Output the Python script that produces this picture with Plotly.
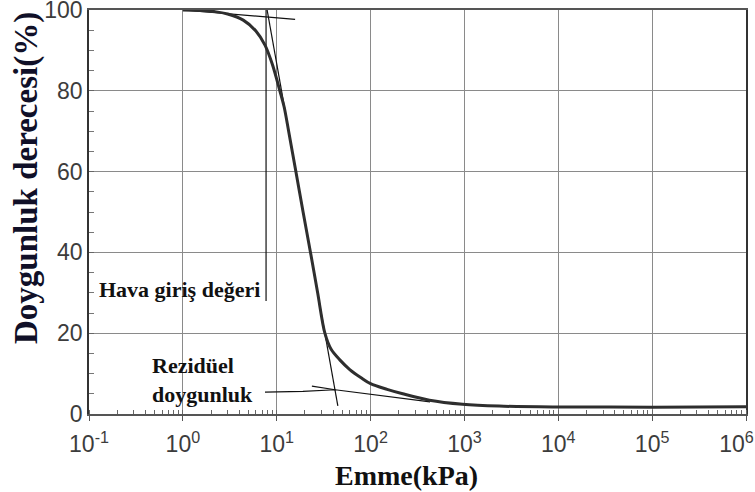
import plotly.graph_objects as go

# Soil-water characteristic curve: degree of saturation vs. suction
suction_kpa = [1.0, 1.5, 2.2, 3.0, 4.4, 6.0, 7.5, 9.0, 10.8, 12.0, 13.4, 16.0, 19.1,
               22.9, 27.3, 32.6, 38, 47, 60, 80, 100, 150, 220, 424, 955, 2340,
               1e4, 1e5, 1e6]
saturation_pct = [100, 99.9, 99.6, 99.0, 97.5, 94.8, 91.3, 86.5, 80, 76, 70, 60, 50,
                  40, 30, 20, 16.0, 13.4, 11.0, 8.9, 7.5, 6.1, 5.0, 3.4, 2.4, 1.95,
                  1.75, 1.7, 1.8]

# Construction lines
top_tangent_x = [1.0, 15.7]
top_tangent_y = [100.0, 97.7]
steep_tangent_x = [7.9, 44.8]
steep_tangent_y = [100.0, 2.0]
air_entry_x = [7.7, 7.7]
air_entry_y = [100.0, 28.0]
residual_x = [7.5, 19, 42, 100, 430]
residual_y = [5.4, 5.6, 6.0, 4.9, 3.0]
residual_tangent_x = [23.7, 42]
residual_tangent_y = [6.9, 6.0]

x_tick_vals = [1e-1, 1e0, 1e1, 1e2, 1e3, 1e4, 1e5, 1e6]
x_tick_text = ["10<sup>-1</sup>", "10<sup>0</sup>", "10<sup>1</sup>", "10<sup>2</sup>",
               "10<sup>3</sup>", "10<sup>4</sup>", "10<sup>5</sup>",
               "10<sup>6</sup>&nbsp;&nbsp;&nbsp;"]
y_tick_vals = [0, 20, 40, 60, 80, 100]

fig = go.Figure()

thin = dict(color="#111111", width=1.2)
for xs, ys in [(top_tangent_x, top_tangent_y), (steep_tangent_x, steep_tangent_y),
               (air_entry_x, air_entry_y), (residual_x, residual_y),
               (residual_tangent_x, residual_tangent_y)]:
    fig.add_trace(go.Scatter(x=xs, y=ys, mode="lines", line=thin,
                             hoverinfo="skip", showlegend=False))

fig.add_trace(go.Scatter(x=suction_kpa, y=saturation_pct, mode="lines",
                         line=dict(color="#2e2e2e", width=3, shape="spline", smoothing=0.9),
                         showlegend=False))

tick_font = dict(family="Liberation Sans, Arial", size=23, color="#3c3c3c")
grid_col = "#8a8a8a"

fig.update_xaxes(type="log", range=[-1, 6], tickvals=x_tick_vals, ticktext=x_tick_text,
                 tickfont=tick_font, ticklabeloverflow="allow", ticklabelstandoff=4,
                 automargin=False,
                 showgrid=True, gridcolor=grid_col, gridwidth=1.3,
                 showline=True, linecolor="#555555", linewidth=1.5, mirror=True,
                 ticks="outside", ticklen=5, tickcolor="#555555",
                 minor=dict(ticks="inside", ticklen=4, dtick="D1", tickcolor="#666666",
                            showgrid=False),
                 zeroline=False)
fig.update_yaxes(range=[0, 100], tickvals=y_tick_vals, tickfont=tick_font,
                 ticklabeloverflow="allow", automargin=False,
                 showgrid=True, gridcolor=grid_col, gridwidth=1.3,
                 showline=True, linecolor="#333333", linewidth=1.5, mirror=True,
                 ticks="inside", ticklen=5, tickcolor="#666666",
                 minor=dict(ticks="inside", ticklen=5, dtick=5, tickcolor="#777777",
                            showgrid=False),
                 zeroline=False)

serif = "Liberation Serif, Times New Roman"
fig.add_annotation(text="<b>Emme(kPa)</b>", xref="paper", yref="paper",
                   x=0.4825, y=-0.153, xanchor="center", yanchor="middle", showarrow=False,
                   font=dict(family=serif, size=28, color="#111111"))
fig.add_annotation(text="<b>Doygunluk derecesi(%)</b>", xref="paper", yref="paper",
                   x=-0.096, y=0.584, xanchor="center", yanchor="middle",
                   textangle=-90, showarrow=False,
                   font=dict(family=serif, size=33, color="#101028"))
fig.add_annotation(text="<b>Hava giriş değeri</b>", xref="paper", yref="paper",
                   x=0.012, y=0.307, xanchor="left", yanchor="middle", showarrow=False,
                   font=dict(family=serif, size=22, color="#111111"))
fig.add_annotation(text="<b>Rezidüel<br>doygunluk</b>", xref="paper", yref="paper",
                   x=0.093, y=0.085, xanchor="left", yanchor="middle", align="left",
                   showarrow=False,
                   font=dict(family=serif, size=22, color="#111111"))

fig.update_layout(width=755, height=492, margin=dict(l=89, r=9, t=10, b=78),
                  plot_bgcolor="white", paper_bgcolor="white")

fig.write_html("out.html")
